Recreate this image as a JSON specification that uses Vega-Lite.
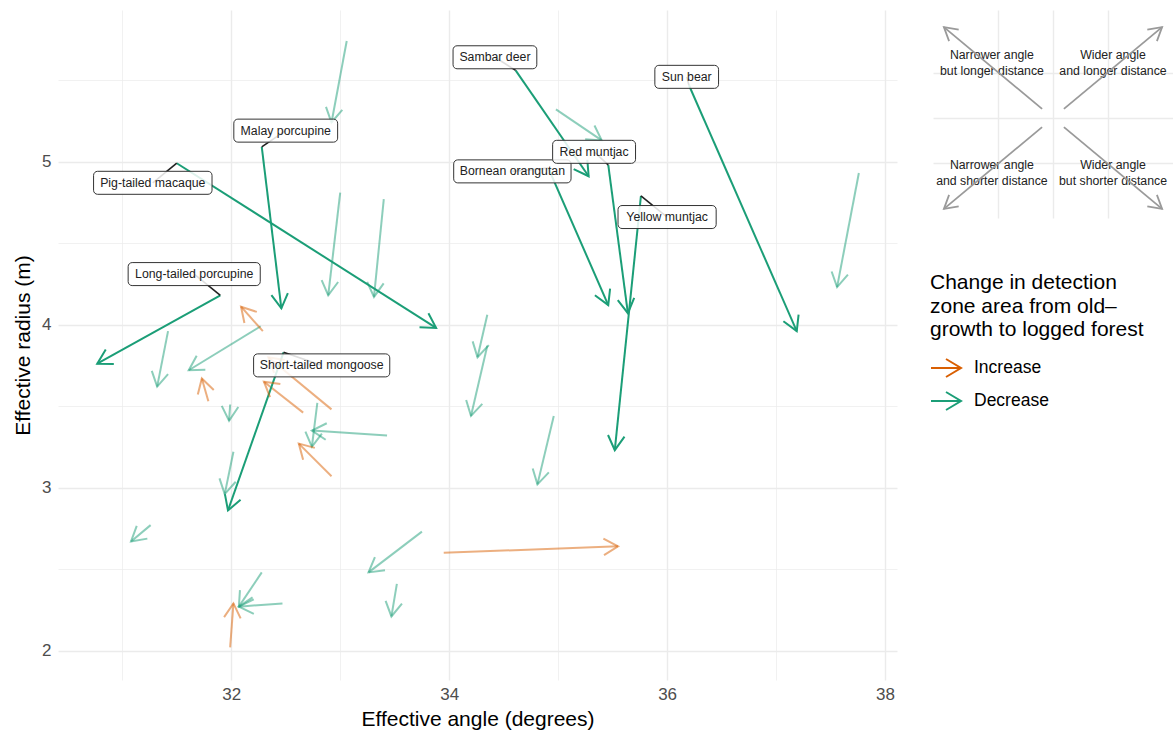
{
  "$schema": "https://vega.github.io/schema/vega-lite/v6.json",
  "background": "white",
  "padding": {"left": 12, "top": 10, "right": 0, "bottom": 5},
  "config": {
    "font": "Liberation Sans",
    "view": {"stroke": null},
    "axis": {
      "domain": false,
      "ticks": false,
      "gridColor": "#EBEBEB",
      "labelColor": "#4D4D4D",
      "labelFontSize": 17,
      "labelFont": "Liberation Sans",
      "titleFont": "Liberation Sans",
      "titleFontSize": 21,
      "titleFontWeight": "normal",
      "titleColor": "#000000"
    }
  },
  "datasets": {
    "arrows": [
      {"x1": 33.06, "y1": 5.74, "x2": 32.92, "y2": 5.24, "change": "Decrease"},
      {"x1": 33.00, "y1": 4.81, "x2": 32.89, "y2": 4.18, "change": "Decrease"},
      {"x1": 33.40, "y1": 4.77, "x2": 33.31, "y2": 4.17, "change": "Decrease"},
      {"x1": 34.98, "y1": 5.32, "x2": 35.40, "y2": 5.13, "change": "Decrease"},
      {"x1": 37.76, "y1": 4.93, "x2": 37.56, "y2": 4.23, "change": "Decrease"},
      {"x1": 34.35, "y1": 4.06, "x2": 34.26, "y2": 3.80, "change": "Decrease"},
      {"x1": 34.35, "y1": 3.87, "x2": 34.20, "y2": 3.44, "change": "Decrease"},
      {"x1": 34.96, "y1": 3.44, "x2": 34.81, "y2": 3.02, "change": "Decrease"},
      {"x1": 33.75, "y1": 2.73, "x2": 33.26, "y2": 2.48, "change": "Decrease"},
      {"x1": 33.52, "y1": 2.41, "x2": 33.47, "y2": 2.21, "change": "Decrease"},
      {"x1": 33.43, "y1": 3.32, "x2": 32.74, "y2": 3.35, "change": "Decrease"},
      {"x1": 32.79, "y1": 3.52, "x2": 32.74, "y2": 3.25, "change": "Decrease"},
      {"x1": 31.42, "y1": 3.96, "x2": 31.32, "y2": 3.62, "change": "Decrease"},
      {"x1": 32.27, "y1": 3.99, "x2": 31.61, "y2": 3.72, "change": "Decrease"},
      {"x1": 31.99, "y1": 3.51, "x2": 31.98, "y2": 3.41, "change": "Decrease"},
      {"x1": 32.02, "y1": 3.22, "x2": 31.94, "y2": 2.96, "change": "Decrease"},
      {"x1": 31.26, "y1": 2.77, "x2": 31.08, "y2": 2.67, "change": "Decrease"},
      {"x1": 32.28, "y1": 2.48, "x2": 32.07, "y2": 2.27, "change": "Decrease"},
      {"x1": 32.47, "y1": 2.29, "x2": 32.07, "y2": 2.27, "change": "Decrease"},
      {"x1": 32.29, "y1": 3.96, "x2": 32.09, "y2": 4.11, "change": "Increase"},
      {"x1": 31.79, "y1": 3.53, "x2": 31.73, "y2": 3.67, "change": "Increase"},
      {"x1": 32.66, "y1": 3.46, "x2": 32.30, "y2": 3.65, "change": "Increase"},
      {"x1": 32.92, "y1": 3.48, "x2": 32.34, "y2": 3.80, "change": "Increase"},
      {"x1": 32.92, "y1": 3.07, "x2": 32.62, "y2": 3.27, "change": "Increase"},
      {"x1": 31.99, "y1": 2.02, "x2": 32.02, "y2": 2.29, "change": "Increase"},
      {"x1": 33.95, "y1": 2.60, "x2": 35.55, "y2": 2.64, "change": "Increase"},
      {"species": "Pig-tailed macaque", "x1": 31.50, "y1": 4.99, "x2": 33.88, "y2": 3.98, "change": "Decrease", "label_x": 31.28, "label_y": 4.87},
      {"species": "Malay porcupine", "x1": 32.28, "y1": 5.09, "x2": 32.46, "y2": 4.10, "change": "Decrease", "label_x": 32.50, "label_y": 5.19},
      {"species": "Long-tailed porcupine", "x1": 31.90, "y1": 4.18, "x2": 30.77, "y2": 3.76, "change": "Decrease", "label_x": 31.66, "label_y": 4.31},
      {"species": "Short-tailed mongoose", "x1": 32.48, "y1": 3.83, "x2": 31.97, "y2": 2.86, "change": "Decrease", "label_x": 32.83, "label_y": 3.75},
      {"species": "Sambar deer", "x1": 34.61, "y1": 5.56, "x2": 35.28, "y2": 4.91, "change": "Decrease", "label_x": 34.42, "label_y": 5.64},
      {"species": "Bornean orangutan", "x1": 34.91, "y1": 4.96, "x2": 35.46, "y2": 4.12, "change": "Decrease", "label_x": 34.58, "label_y": 4.94},
      {"species": "Red muntjac", "x1": 35.46, "y1": 4.98, "x2": 35.64, "y2": 4.07, "change": "Decrease", "label_x": 35.33, "label_y": 5.06},
      {"species": "Yellow muntjac", "x1": 35.76, "y1": 4.79, "x2": 35.52, "y2": 3.23, "change": "Decrease", "label_x": 36.00, "label_y": 4.66},
      {"species": "Sun bear", "x1": 36.20, "y1": 5.47, "x2": 37.19, "y2": 3.96, "change": "Decrease", "label_x": 36.18, "label_y": 5.52}
    ],
    "key_arrows": [
      {"x1": -0.1, "y1": 0.1, "x2": -1, "y2": 1},
      {"x1": 0.1, "y1": 0.1, "x2": 1, "y2": 1},
      {"x1": -0.1, "y1": -0.1, "x2": -1, "y2": -1},
      {"x1": 0.1, "y1": -0.1, "x2": 1, "y2": -1}
    ],
    "key_notes": [
      {"tx": -0.56, "ty": 0.6, "note": "Narrower angle\nbut longer distance"},
      {"tx": 0.55, "ty": 0.6, "note": "Wider angle\nand longer distance"},
      {"tx": -0.56, "ty": -0.6, "note": "Narrower angle\nand shorter distance"},
      {"tx": 0.55, "ty": -0.6, "note": "Wider angle\nbut shorter distance"}
    ]
  },
  "spacing": 36,
  "hconcat": [
    {
      "name": "main",
      "width": 839,
      "height": 670,
      "data": {"name": "arrows"},
      "layer": [
        {
          "mark": {"type": "rule", "strokeWidth": 2, "strokeCap": "butt"},
          "encoding": {
            "x": {
              "field": "x1", "type": "quantitative", "title": "Effective angle (degrees)",
              "scale": {"domain": [30.41, 38.11], "nice": false, "zero": false},
              "axis": {
                "values": [31, 32, 33, 34, 35, 36, 37, 38],
                "format": "d",
                "labelExpr": "datum.value % 2 === 0 ? datum.label : ''",
                "gridWidth": {"condition": {"test": "datum.value % 2 === 0", "value": 1.4}, "value": 0.7},
                "labelPadding": 6,
                "titlePadding": 6
              }
            },
            "y": {
              "field": "y1", "type": "quantitative", "title": "Effective radius (m)",
              "scale": {"domain": [1.82, 5.93], "nice": false, "zero": false},
              "axis": {
                "values": [2, 2.5, 3, 3.5, 4, 4.5, 5, 5.5],
                "format": "~g",
                "labelExpr": "datum.value % 1 === 0 ? datum.label : ''",
                "gridWidth": {"condition": {"test": "datum.value % 1 === 0", "value": 1.4}, "value": 0.7},
                "labelPadding": 7,
                "titlePadding": 8
              }
            },
            "x2": {"field": "x2"},
            "y2": {"field": "y2"},
            "color": {
              "field": "change", "type": "nominal",
              "scale": {"domain": ["Increase", "Decrease"], "range": ["#D95F02", "#1B9E77"]},
              "legend": {
                "orient": "none",
                "legendX": 872,
                "legendY": 262,
                "title": ["Change in detection", "zone area from old\u2013", "growth to logged forest"],
                "titleFontSize": 21,
                "titleFontWeight": "normal",
                "titleLineHeight": 23.5,
                "titleColor": "#000000",
                "titleLimit": 400,
                "titlePadding": 12,
                "labelFontSize": 17.5,
                "labelColor": "#000000",
                "labelLimit": 300,
                "labelOffset": 12,
                "symbolType": "M -1 0 L 1 0 M 0 -0.6 L 1 0 L 0 0.6",
                "symbolSize": 900,
                "symbolStrokeWidth": 2,
                "rowPadding": 4,
                "encode": {"symbols": {"update": {"fill": {"value": "transparent"}, "opacity": {"value": 1}, "strokeWidth": {"value": 2}}}}
              }
            },
            "opacity": {"condition": {"test": "isValid(datum.species)", "value": 1}, "value": 0.5}
          }
        },
        {
          "mark": {
            "type": "point",
            "shape": "M -0.5 0.866 L 0 0 L 0.5 0.866",
            "filled": false,
            "size": 1100,
            "strokeWidth": 2,
            "strokeJoin": "miter",
            "angle": {"expr": "atan2(scale('main_x', datum.x2) - scale('main_x', datum.x1), scale('main_y', datum.y1) - scale('main_y', datum.y2)) * 180 / PI"}
          },
          "encoding": {
            "x": {"field": "x2", "type": "quantitative", "title": "Effective angle (degrees)"},
            "y": {"field": "y2", "type": "quantitative", "title": "Effective radius (m)"},
            "color": {"field": "change", "type": "nominal"},
            "opacity": {"condition": {"test": "isValid(datum.species)", "value": 1}, "value": 0.5}
          }
        },
        {
          "transform": [{"filter": "isValid(datum.species)"}],
          "mark": {"type": "rule", "color": "#222222", "strokeWidth": 1.6},
          "encoding": {
            "x": {"field": "label_x", "type": "quantitative", "title": "Effective angle (degrees)"},
            "y": {"field": "label_y", "type": "quantitative", "title": "Effective radius (m)"},
            "x2": {"field": "x1"},
            "y2": {"field": "y1"}
          }
        },
        {
          "transform": [{"filter": "isValid(datum.species)"}],
          "mark": {
            "type": "rect",
            "fill": "#FFFFFF",
            "fillOpacity": 0.85,
            "stroke": "#333333",
            "strokeWidth": 1,
            "cornerRadius": 4,
            "height": 23,
            "width": {"expr": "12.3 * (0.54 * length(datum.species) - 0.32 * (length(datum.species) - length(replace(datum.species, regexp('[ilj]', 'g'), ''))) - 0.25 * (length(datum.species) - length(replace(datum.species, regexp('[tfr -]', 'g'), ''))) + 0.26 * (length(datum.species) - length(replace(datum.species, regexp('[mwMW]', 'g'), ''))) + 0.14 * (length(datum.species) - length(replace(datum.species, regexp('[A-LN-VX-Z]', 'g'), '')))) + 15"}
          },
          "encoding": {
            "x": {"field": "label_x", "type": "quantitative", "title": "Effective angle (degrees)"},
            "y": {"field": "label_y", "type": "quantitative", "title": "Effective radius (m)"}
          }
        },
        {
          "transform": [{"filter": "isValid(datum.species)"}],
          "mark": {"type": "text", "fontSize": 12.3, "color": "#222222", "font": "Liberation Sans"},
          "encoding": {
            "x": {"field": "label_x", "type": "quantitative", "title": "Effective angle (degrees)"},
            "y": {"field": "label_y", "type": "quantitative", "title": "Effective radius (m)"},
            "text": {"field": "species"}
          }
        }
      ]
    },
    {
      "name": "key",
      "width": 240,
      "height": 208,
      "layer": [
        {
          "data": {"name": "key_notes"},
          "mark": {"type": "text", "fontSize": 12.3, "color": "#222222", "lineBreak": "\n", "lineHeight": 16, "align": "center", "baseline": "middle", "dy": -8},
          "encoding": {
            "x": {
              "field": "tx", "type": "quantitative", "title": null,
              "scale": {"domain": [-1.1, 1.1], "nice": false, "zero": false},
              "axis": {"values": [-0.5, 0, 0.5], "labels": false, "gridWidth": 1.4, "title": null}
            },
            "y": {
              "field": "ty", "type": "quantitative", "title": null,
              "scale": {"domain": [-1.1, 1.188], "nice": false, "zero": false},
              "axis": {"values": [-0.5, 0, 0.5], "labels": false, "gridWidth": 1.4, "title": null}
            },
            "text": {"field": "note"}
          }
        },
        {
          "data": {"name": "key_arrows"},
          "mark": {"type": "rule", "color": "#9A9A9A", "strokeWidth": 1.8},
          "encoding": {
            "x": {"field": "x1", "type": "quantitative", "title": null},
            "y": {"field": "y1", "type": "quantitative", "title": null},
            "x2": {"field": "x2"},
            "y2": {"field": "y2"}
          }
        },
        {
          "data": {"name": "key_arrows"},
          "mark": {
            "type": "point",
            "shape": "M -0.5 0.866 L 0 0 L 0.5 0.866",
            "filled": false,
            "size": 900,
            "color": "#9A9A9A",
            "opacity": 1,
            "strokeWidth": 1.8,
            "strokeJoin": "miter",
            "angle": {"expr": "atan2(scale('key_x', datum.x2) - scale('key_x', datum.x1), scale('key_y', datum.y1) - scale('key_y', datum.y2)) * 180 / PI"}
          },
          "encoding": {
            "x": {"field": "x2", "type": "quantitative", "title": null},
            "y": {"field": "y2", "type": "quantitative", "title": null}
          }
        }
      ]
    }
  ]
}
